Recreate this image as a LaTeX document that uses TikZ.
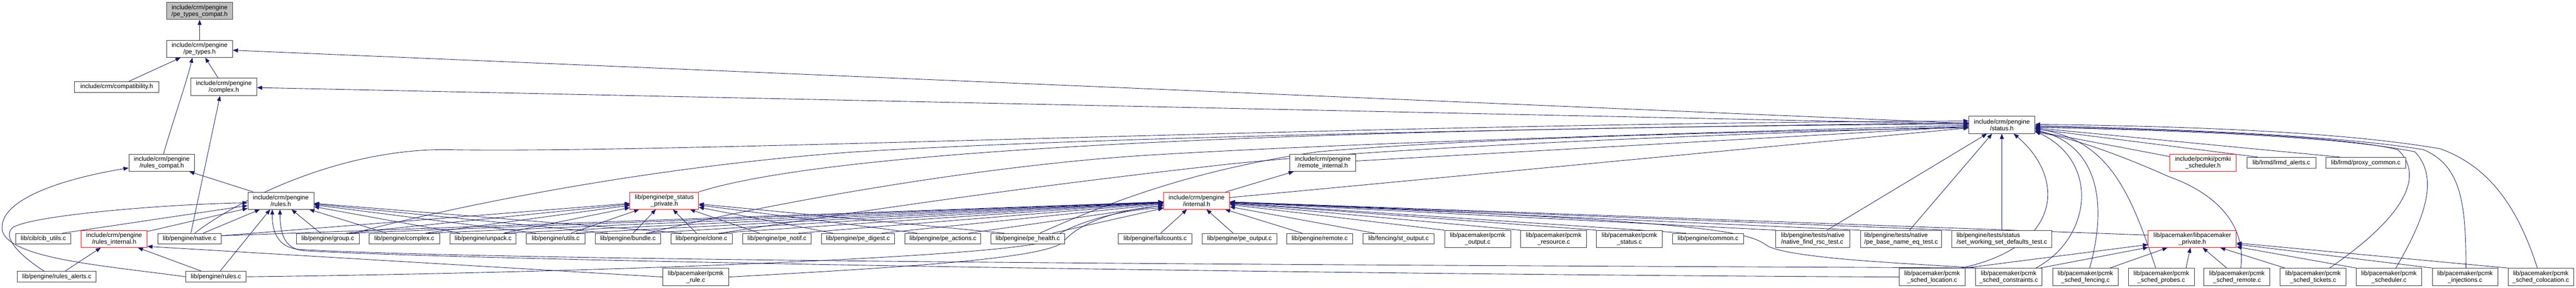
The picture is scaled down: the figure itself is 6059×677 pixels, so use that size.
\documentclass[tikz,border=0pt]{standalone}
\usepackage{fontspec}
\setmainfont{Liberation Sans}
\usetikzlibrary{arrows.meta,calc}
\definecolor{mblue}{RGB}{25,25,112}
\definecolor{rootgray}{RGB}{191,191,191}
\pgfdeclarelayer{bg}
\pgfsetlayers{bg,main}
\tikzset{
  nbox/.style={draw=black!80, line width=0.9pt, fill=white, inner sep=0pt, align=center,
    font=\fontsize{11}{11.8}\selectfont, text=black},
  redbox/.style={draw=red},
  rootbox/.style={fill=rootgray, draw=black!75},
  leftal/.style={align=left},
  dep/.style={draw=mblue, line width=0.8pt, -{Triangle[length=9pt,width=7pt]}},
}
\newcommand{\mknode}[7][]{\node[nbox,#1,minimum width={(#4-#3)*0.75pt},minimum height={(#6-#5)*0.75pt}] (#2) at ({(#3+#4)/2},{(#5+#6)/2}) {#7};}
\begin{document}
\begin{tikzpicture}[x=0.75pt,y=-0.75pt]
\useasboundingbox (0,0) rectangle (6059,677);
% row 1-4
\mknode[rootbox]{compat}{392}{547}{6}{46}{include/crm/pengine\\/pe\_types\_compat.h}
\mknode{petypes}{392}{547}{95}{135}{include/crm/pengine\\/pe\_types.h}
\mknode{compatib}{175}{374}{192}{217}{include/crm/compatibility.h}
\mknode{complexh}{449}{604}{184}{225}{include/crm/pengine\\/complex.h}
\mknode{status}{4631}{4786}{273}{314}{include/crm/pengine\\/status.h}
% row 5
\mknode{rulescompat}{303}{458}{363}{403}{include/crm/pengine\\/rules\_compat.h}
\mknode{remoteint}{3034}{3189}{363}{403}{include/crm/pengine\\/remote\_internal.h}
\mknode[redbox]{pcmkisched}{5103}{5260}{363}{403}{include/pcmki/pcmki\\\_scheduler.h}
\mknode{lrmdalerts}{5285}{5447}{370}{396}{lib/lrmd/lrmd\_alerts.c}
\mknode{proxy}{5471}{5658}{370}{396}{lib/lrmd/proxy\_common.c}
% row 6
\mknode{rules}{583}{738}{452}{492}{include/crm/pengine\\/rules.h}
\mknode[redbox]{pestatpriv}{1482}{1643}{452}{492}{lib/pengine/pe\_status\\\_private.h}
\mknode[redbox]{internal}{2737}{2892}{452}{492}{include/crm/pengine\\/internal.h}
% row 7
\mknode{cibutils}{37}{167}{549}{574}{lib/cib/cib\_utils.c}
\mknode[redbox]{rulesint}{191}{346}{542}{582}{include/crm/pengine\\/rules\_internal.h}
\mknode{native}{371}{521}{549}{574}{lib/pengine/native.c}
\mknode{group}{697}{845}{549}{574}{lib/pengine/group.c}
\mknode{complexc}{868}{1034}{549}{574}{lib/pengine/complex.c}
\mknode{unpack}{1059}{1214}{549}{574}{lib/pengine/unpack.c}
\mknode{utilsc}{1238}{1376}{549}{574}{lib/pengine/utils.c}
\mknode{bundle}{1400}{1554}{549}{574}{lib/pengine/bundle.c}
\mknode{clone}{1578}{1722}{549}{574}{lib/pengine/clone.c}
\mknode{notif}{1747}{1908}{549}{574}{lib/pengine/pe\_notif.c}
\mknode{digest}{1932}{2104}{549}{574}{lib/pengine/pe\_digest.c}
\mknode{actions}{2129}{2307}{549}{574}{lib/pengine/pe\_actions.c}
\mknode{health}{2331}{2504}{549}{574}{lib/pengine/pe\_health.c}
\mknode{failcounts}{2630}{2804}{549}{574}{lib/pengine/failcounts.c}
\mknode{peoutput}{2828}{3003}{549}{574}{lib/pengine/pe\_output.c}
\mknode{remotec}{3026}{3182}{549}{574}{lib/pengine/remote.c}
\mknode{stoutput}{3206}{3373}{549}{574}{lib/fencing/st\_output.c}
\mknode{pcmkoutput}{3398}{3553}{542}{582}{lib/pacemaker/pcmk\\\_output.c}
\mknode{pcmkresource}{3577}{3732}{542}{582}{lib/pacemaker/pcmk\\\_resource.c}
\mknode{pcmkstatus}{3755}{3910}{542}{582}{lib/pacemaker/pcmk\\\_status.c}
\mknode{common}{3934}{4101}{549}{574}{lib/pengine/common.c}
\mknode[leftal]{findrsc}{4177}{4351}{542}{582}{lib/pengine/tests/native\\/native\_find\_rsc\_test.c}
\mknode[leftal]{basename}{4376}{4567}{542}{582}{lib/pengine/tests/native\\/pe\_base\_name\_eq\_test.c}
\mknode[leftal]{setws}{4591}{4826}{542}{582}{lib/pengine/tests/status\\/set\_working\_set\_defaults\_test.c}
\mknode[redbox]{libpmpriv}{5053}{5260}{542}{582}{lib/pacemaker/libpacemaker\\\_private.h}
% row 8
\mknode{rulesalerts}{41}{226}{638}{664}{lib/pengine/rules\_alerts.c}
\mknode{rulesc}{437}{579}{638}{664}{lib/pengine/rules.c}
\mknode{pcmkrule}{1559}{1714}{631}{672}{lib/pacemaker/pcmk\\\_rule.c}
\mknode{location}{4467}{4622}{631}{672}{lib/pacemaker/pcmk\\\_sched\_location.c}
\mknode{constraints}{4646}{4803}{631}{672}{lib/pacemaker/pcmk\\\_sched\_constraints.c}
\mknode{fencing}{4828}{4982}{631}{672}{lib/pacemaker/pcmk\\\_sched\_fencing.c}
\mknode{probes}{5006}{5161}{631}{672}{lib/pacemaker/pcmk\\\_sched\_probes.c}
\mknode{schedremote}{5184}{5339}{631}{672}{lib/pacemaker/pcmk\\\_sched\_remote.c}
\mknode{tickets}{5363}{5518}{631}{672}{lib/pacemaker/pcmk\\\_sched\_tickets.c}
\mknode{scheduler}{5542}{5696}{631}{672}{lib/pacemaker/pcmk\\\_scheduler.c}
\mknode{injections}{5721}{5875}{631}{672}{lib/pacemaker/pcmk\\\_injections.c}
\mknode{colocation}{5899}{6053}{631}{672}{lib/pacemaker/pcmk\\\_sched\_colocation.c}

\begin{pgfonlayer}{bg}
% top part
\draw[dep] (petypes) -- (compat);
\draw[dep] (compatib) -- (petypes);
\draw[dep] (complexh) -- (petypes);
\draw[dep] ($(rulescompat.north)+(4,0)$) .. controls (405,290) and (440,190) .. ($(petypes.south)+(-17,0)$);
\draw[dep] (status) -- (petypes);
\draw[dep] (status) -- (complexh);
\draw[dep] ($(native.north)+(3,0)$) -- ($(complexh.south)+(-9,0)$);
% rules cluster
\draw[dep] (rules) -- (rulescompat);
\draw[dep] (rulesc.west) .. controls (250,625) and (30,610) .. (6,545) .. controls (-10,470) and (150,420) .. ($(rulescompat.west)+(0,12)$);
\draw[dep] ($(rulesalerts.north)+(-30,0)$) .. controls (60,610) and (0,560) .. (30,535) .. controls (80,505) and (400,480) .. ($(rules.west)+(0,5)$);
\draw[dep] ($(cibutils.north)+(45,0)$) -- (rules);
\draw[dep] ($(rulesint.north east)+(0,3)$) -- (rules);
\draw[dep] ($(native.north)+(32,0)$) -- (rules);
\draw[dep] ($(rulesc.north)+(10,0)$) -- ($(rules.south)+(-25,0)$);
\draw[dep] ($(rulesc.north)+(-35,0)$) -- (rulesint);
\draw[dep] ($(rulesalerts.north)+(20,0)$) -- (rulesint);
\draw[dep] (pcmkrule.west) -- ($(rulesint.south east)+(0,-3)$);
\draw[dep] (location.west) .. controls (3000,645) and (1100,612) .. (720,590) .. controls (675,588) and (659,560) .. ($(rules.south)+(-2,0)$);
\draw[dep] (constraints.north west) .. controls (4000,626) and (1300,620) .. (710,587) .. controls (660,585) and (640,555) .. ($(rules.south)+(-20,0)$);
\draw[dep] ($(group.north)+(-17,0)$) -- (rules);
\draw[dep] ($(complexc.north)+(-42,0)$) -- (rules);
\draw[dep] ($(unpack.north)+(-55,0)$) -- (rules);
\draw[dep] ($(utilsc.north)+(-47,0)$) -- (rules);
\draw[dep] ($(bundle.north)+(-48,0)$) -- (rules);
\draw[dep] ($(clone.north)+(-47,0)$) -- (rules);
% status from the left
\draw[dep] ($(native.north)+(12,0)$) .. controls (560,470) and (800,350) .. (1050,352) .. controls (1600,362) and (3200,290) .. ($(status.west)+(0,-9)$);
\draw[dep] ($(group.north)+(61,0)$) .. controls (1050,490) and (1500,395) .. (2000,358) .. controls (2600,320) and (3800,300) .. ($(status.west)+(0,-5)$);
\draw[dep] (pestatpriv.north east) .. controls (1900,370) and (2700,305) .. ($(status.west)+(0,-2)$);
\draw[dep] ($(bundle.north)+(46,0)$) .. controls (1800,480) and (2300,390) .. (2700,365) .. controls (3200,335) and (4000,312) .. ($(status.west)+(0,1)$);
\draw[dep] ($(clone.north)+(45,0)$) .. controls (2000,500) and (2400,440) .. (2900,385) .. controls (3300,345) and (4000,318) .. ($(status.west)+(0,4)$);
\draw[dep] ($(health.north)+(28,0)$) .. controls (2600,480) and (2800,400) .. (3100,357) .. controls (3500,322) and (4200,308) .. ($(status.west)+(0,7)$);
\draw[dep] (internal) -- (status);
\draw[dep] (remoteint) -- (status);
\draw[dep] (internal) -- (remoteint);
% status from below and right
\draw[dep] ($(findrsc.north)+(33,0)$) -- ($(status.south)+(-35,0)$);
\draw[dep] ($(basename.north)+(20,0)$) -- ($(status.south)+(-23,0)$);
\draw[dep] (setws) -- (status);
\draw[dep] ($(location.north east)+(-10,0)$) .. controls (4850,580) and (4860,420) .. ($(status.south)+(28,0)$);
\draw[dep] ($(constraints.north)+(64,0)$) .. controls (4920,560) and (4940,380) .. ($(status.east)+(0,15)$);
\draw[dep] ($(fencing.north)+(10,0)$) .. controls (4960,470) and (4930,340) .. ($(status.east)+(0,12)$);
\draw[dep] ($(probes.north)+(-13,0)$) .. controls (5010,450) and (4960,330) .. ($(status.east)+(0,9)$);
\draw[dep] ($(schedremote.north)+(9,0)$) .. controls (5285,520) and (5200,450) .. (5100,415) .. controls (5000,370) and (4880,325) .. ($(status.east)+(0,17)$);
\draw[dep] ($(tickets.north)+(39,0)$) .. controls (5640,520) and (5710,420) .. (5640,352) .. controls (5500,318) and (5100,305) .. ($(status.east)+(0,4)$);
\draw[dep] ($(scheduler.north)+(16,0)$) .. controls (5700,520) and (5740,420) .. (5680,357) .. controls (5500,320) and (5100,306) .. ($(status.east)+(0,6)$);
\draw[dep] ($(injections.north)+(2,0)$) .. controls (5800,480) and (5790,390) .. (5700,352) .. controls (5500,318) and (5100,303) .. ($(status.east)+(0,2)$);
\draw[dep] ($(colocation.north)+(-8,0)$) .. controls (5920,480) and (5850,390) .. (5740,350) .. controls (5500,308) and (5100,296) .. ($(status.east)+(0,-1)$);
\draw[dep] (pcmkisched) -- (status);
\draw[dep] ($(lrmdalerts.north west)+(26,0)$) -- (status);
\draw[dep] ($(proxy.north west)+(33,0)$) -- (status);
% libpacemaker_private.h
\draw[dep] (location.north east) -- (libpmpriv);
\draw[dep] ($(constraints.north east)+(-5,0)$) -- (libpmpriv);
\draw[dep] ($(fencing.north east)+(-20,0)$) -- (libpmpriv);
\draw[dep] ($(probes.north east)+(-20,0)$) -- (libpmpriv);
\draw[dep] ($(schedremote.north)+(-24,0)$) -- (libpmpriv);
\draw[dep] ($(tickets.north west)+(12,0)$) -- (libpmpriv);
\draw[dep] (scheduler.north west) -- (libpmpriv);
\draw[dep] (injections.north west) -- (libpmpriv);
\draw[dep] (colocation.north west) -- (libpmpriv);
% pe_status_private.h
\draw[dep] ($(native.north east)+(0,6)$) -- (pestatpriv);
\draw[dep] ($(group.north)+(44,0)$) -- (pestatpriv);
\draw[dep] ($(complexc.north)+(50,0)$) -- (pestatpriv);
\draw[dep] ($(unpack.north)+(48,0)$) -- (pestatpriv);
\draw[dep] ($(utilsc.north)+(36,0)$) -- (pestatpriv);
\draw[dep] ($(bundle.north)+(12,0)$) -- (pestatpriv);
\draw[dep] ($(clone.north)+(-12,0)$) -- (pestatpriv);
\draw[dep] ($(notif.north)+(-41,0)$) -- (pestatpriv);
\draw[dep] ($(digest.north)+(-59,0)$) -- (pestatpriv);
\draw[dep] ($(actions.north)+(-61,0)$) -- (pestatpriv);
\draw[dep] ($(health.north)+(-56,0)$) -- (pestatpriv);
% internal.h from the left
\draw[dep] ($(native.north east)+(0,6)$) -- (internal);
\draw[dep] ($(group.north)+(50,0)$) -- (internal);
\draw[dep] ($(complexc.north)+(55,0)$) -- (internal);
\draw[dep] ($(unpack.north)+(50,0)$) -- (internal);
\draw[dep] ($(utilsc.north)+(48,0)$) -- (internal);
\draw[dep] ($(bundle.north)+(42,0)$) -- (internal);
\draw[dep] ($(clone.north)+(40,0)$) -- (internal);
\draw[dep] ($(notif.north)+(51,0)$) -- (internal);
\draw[dep] ($(digest.north)+(56,0)$) -- (internal);
\draw[dep] ($(actions.north)+(60,0)$) -- (internal);
\draw[dep] ($(health.north)+(58,0)$) -- (internal);
\draw[dep] (rulesc.east) .. controls (1500,640) and (2400,600) .. (2470,565) .. controls (2510,530) and (2620,495) .. ($(internal.south west)+(0,-4)$);
\draw[dep] (pcmkrule.east) .. controls (2100,630) and (2450,610) .. (2500,570) .. controls (2540,520) and (2640,492) .. ($(internal.west)+(0,12)$);
% internal.h from below and right
\draw[dep] ($(failcounts.north)+(13,0)$) -- (internal);
\draw[dep] ($(peoutput.north)+(-15,0)$) -- (internal);
\draw[dep] ($(remotec.north)+(-41,0)$) -- (internal);
\draw[dep] ($(stoutput.north)+(-57,0)$) -- (internal);
\draw[dep] (pcmkoutput.north west) -- (internal);
\draw[dep] (pcmkresource.north west) -- (internal);
\draw[dep] (pcmkstatus.north west) -- (internal);
\draw[dep] ($(common.north west)+(32,0)$) -- (internal);
\draw[dep] ($(findrsc.north west)+(1,0)$) -- (internal);
\draw[dep] (basename.north west) -- (internal);
\draw[dep] (setws.north west) -- (internal);
\draw[dep] ($(libpmpriv.west)+(0,-9)$) -- (internal);
\draw[dep] ($(constraints.north west)+(4,0)$) .. controls (4500,620) and (4230,610) .. (4160,580) .. controls (4110,545) and (4060,522) .. (internal);
\end{pgfonlayer}
\end{tikzpicture}
\end{document}
